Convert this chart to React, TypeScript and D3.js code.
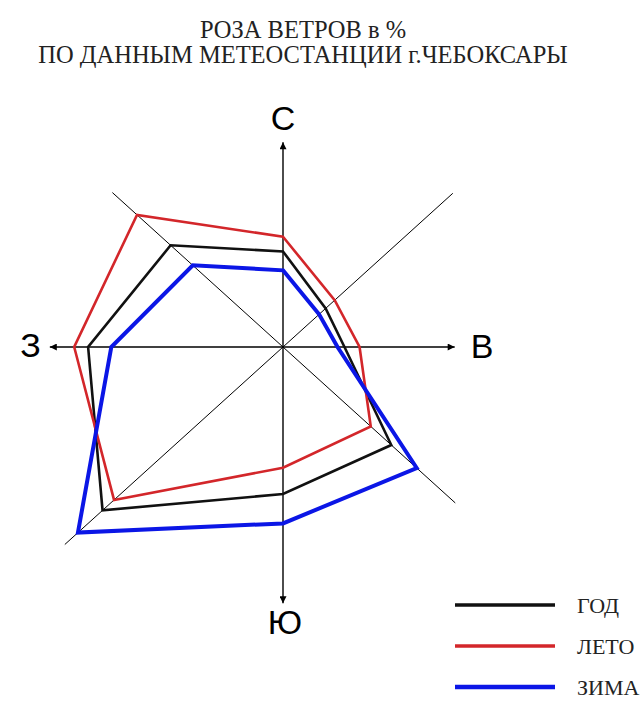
import React from "react";
import * as d3 from "d3";

// румбы, по часовой стрелке от севера
const directions = ["С", "СВ", "В", "ЮВ", "Ю", "ЮЗ", "З", "СЗ"];
const angles = [0, 45, 90, 135, 180, 225, 270, 315];

// повторяемость ветра, %
const yearValues = [9.1, 5.2, 5.3, 13.2, 14.0, 22.0, 16.8, 13.7];
const summerValues = [10.5, 6.3, 6.6, 10.7, 11.5, 20.6, 18.0, 17.8];
const winterValues = [7.3, 4.4, 4.7, 16.3, 16.8, 25.0, 14.8, 11.0];

const seriesNames = ["ГОД", "ЛЕТО", "ЗИМА"];
const titleLines = ["РОЗА ВЕТРОВ в %", "ПО ДАННЫМ МЕТЕОСТАНЦИИ г.ЧЕБОКСАРЫ"];

// длина осей в тех же единицах
const axisLengths = [19.5, 20.7, 14.8, 21.0, 24.4, 26.6, 20.1, 20.8];

const W = 643,
  H = 716;
const cx = 283,
  cy = 347;

const serif = "'Liberation Serif', 'Times New Roman', serif";
const sans = "'Liberation Sans', Arial, sans-serif";

const x = d3.scaleLinear().domain([-20, 20]).range([cx - 232, cx + 232]);
const y = d3.scaleLinear().domain([-25, 20]).range([cy + 262.5, cy - 210]);

const toXY = (v: number, a: number): [number, number] => {
  const r = (a * Math.PI) / 180;
  return [x(v * Math.sin(r)), y(v * Math.cos(r))];
};

const line = d3.line<[number, number]>().curve(d3.curveLinearClosed);

const series = [
  { name: seriesNames[0], values: yearValues, color: "#111111", width: 2.6 },
  { name: seriesNames[1], values: summerValues, color: "#d3262a", width: 2.6 },
  { name: seriesNames[2], values: winterValues, color: "#0b16e6", width: 4 },
];

const labelPos: Record<string, { dx: number; dy: number; anchor: string }> = {
  С: { dx: 0, dy: -12, anchor: "middle" },
  В: { dx: 16, dy: 11, anchor: "start" },
  Ю: { dx: 2, dy: 31, anchor: "middle" },
  З: { dx: -9, dy: 10, anchor: "end" },
};

function App() {
  return (
    <svg
      width={W}
      height={H}
      style={{ position: "absolute", left: 0, top: 0, background: "#fff" }}
    >
      <defs>
        <marker
          id="arr"
          viewBox="0 0 10 10"
          refX="10"
          refY="5"
          markerWidth="9"
          markerHeight="7"
          markerUnits="userSpaceOnUse"
          orient="auto"
        >
          <path d="M0,0 L10,5 L0,10 z" fill="#000" />
        </marker>
      </defs>

      {titleLines.map((t, i) => (
        <text
          key={t}
          x={303}
          y={38 + i * 25}
          textAnchor="middle"
          style={{ fontFamily: serif }}
          fontSize={24.5}
          fill="#222"
        >
          {t}
        </text>
      ))}

      {/* диагонали */}
      {angles.map((a, i) =>
        a % 90 !== 0 ? (
          <line
            key={"d" + a}
            x1={cx}
            y1={cy}
            x2={toXY(axisLengths[i], a)[0]}
            y2={toXY(axisLengths[i], a)[1]}
            stroke="#000"
            strokeWidth={1}
          />
        ) : null
      )}

      {/* главные оси со стрелками */}
      {angles.map((a, i) =>
        a % 90 === 0 ? (
          <line
            key={"a" + a}
            x1={cx}
            y1={cy}
            x2={toXY(axisLengths[i], a)[0]}
            y2={toXY(axisLengths[i], a)[1]}
            stroke="#000"
            strokeWidth={1.4}
            markerEnd="url(#arr)"
          />
        ) : null
      )}

      {series.map((s) => (
        <path
          key={s.name}
          d={line(s.values.map((v, i) => toXY(v, angles[i]))) || ""}
          fill="none"
          stroke={s.color}
          strokeWidth={s.width}
          strokeLinejoin="miter"
        />
      ))}

      {directions.map((d, i) => {
        const p = labelPos[d];
        if (!p) return null;
        const [px, py] = toXY(axisLengths[i], angles[i]);
        return (
          <text
            key={d}
            x={px + p.dx}
            y={py + p.dy}
            textAnchor={p.anchor}
            style={{ fontFamily: sans }}
            fontSize={34}
            fill="#000"
          >
            {d}
          </text>
        );
      })}

      {/* легенда */}
      {series.map((s, i) => (
        <g key={"l" + s.name} transform={`translate(455, ${605 + i * 41})`}>
          <line x1={0} x2={100} y1={0} y2={0} stroke={s.color} strokeWidth={s.width === 4 ? 4.5 : 3.5} />
          <text x={122} y={8} style={{ fontFamily: serif }} fontSize={22} fill="#222">
            {s.name}
          </text>
        </g>
      ))}
    </svg>
  );
}

export default App;
